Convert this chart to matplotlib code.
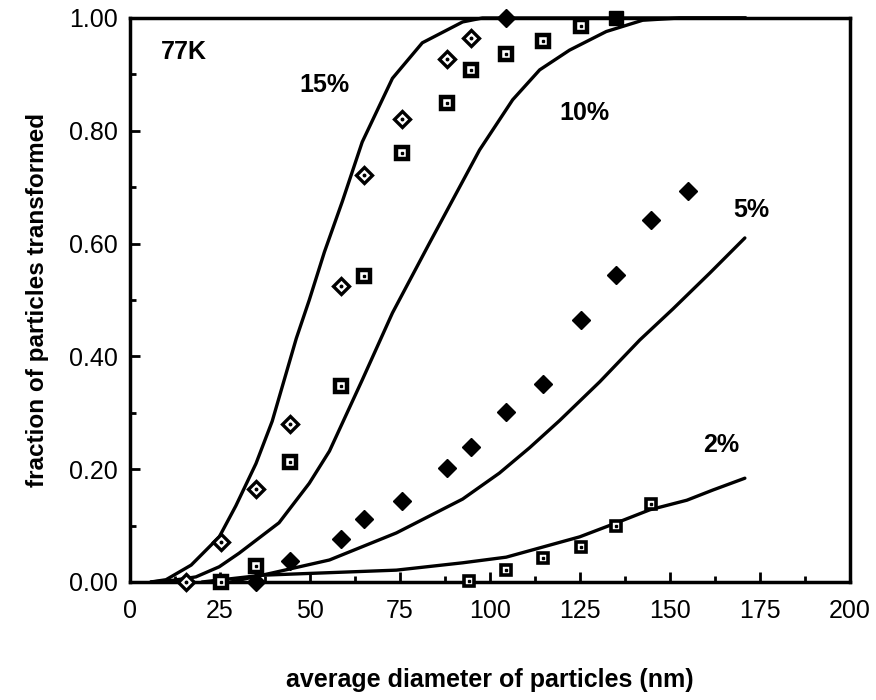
import numpy as np
import matplotlib.pyplot as plt
from matplotlib.ticker import MultipleLocator

plt.rcParams['font.family'] = ['Liberation Sans', 'DejaVu Sans']

# model curves
c15_x = [5.8, 10, 17, 24.8, 29.4, 35, 39.5, 46.2, 49.8, 54, 59, 64.5, 72.9, 81.2, 92.4, 97.9, 110, 140, 171]
c15_y = [0.0, 0.004, 0.03, 0.08, 0.135, 0.21, 0.285, 0.432, 0.5, 0.585, 0.675, 0.78, 0.893, 0.956, 0.993, 1.0, 1.0, 1.0, 1.0]

c10_x = [5.8, 12, 18.3, 24.8, 30.3, 41.4, 49.8, 55.4, 64.5, 72.9, 83.2, 89.6, 97.1, 106.3, 113.8, 122.1, 132.3, 142.4, 152.7, 171]
c10_y = [0.0, 0.003, 0.009, 0.027, 0.051, 0.105, 0.175, 0.232, 0.358, 0.477, 0.601, 0.677, 0.766, 0.855, 0.908, 0.943, 0.976, 0.996, 1.0, 1.0]

c5_x = [28, 39.5, 55.4, 74, 92.4, 102.6, 111, 119.3, 130.5, 141.6, 150.8, 161.1, 170.8]
c5_y = [0.0, 0.016, 0.039, 0.087, 0.147, 0.193, 0.238, 0.286, 0.355, 0.429, 0.484, 0.548, 0.61]

c2_x = [20, 36.7, 74, 92.4, 104.5, 114.7, 124.9, 135.2, 144.4, 154.7, 161.9, 170.8]
c2_y = [0.0, 0.012, 0.021, 0.034, 0.044, 0.062, 0.080, 0.105, 0.128, 0.145, 0.163, 0.184]

# measured points
d15_x = [15.5, 25.2, 35.0, 44.5, 58.6, 65.1, 75.6, 88.1, 94.8]
d15_y = [0.0, 0.071, 0.165, 0.280, 0.524, 0.722, 0.821, 0.927, 0.965]
d15_full_x = [104.5]
d15_full_y = [1.0]

s10_x = [25.2, 35.0, 44.5, 58.6, 65.1, 75.6, 88.1, 94.8, 104.5, 114.7, 125.2]
s10_y = [0.0, 0.028, 0.212, 0.348, 0.543, 0.760, 0.849, 0.907, 0.937, 0.960, 0.985]
s10_full_x = [134.9]
s10_full_y = [1.0]

d5_x = [35.0, 44.5, 58.6, 65.1, 75.6, 88.1, 94.8, 104.5, 114.7, 125.2, 134.9, 144.6, 155.0]
d5_y = [0.0, 0.038, 0.077, 0.111, 0.144, 0.202, 0.240, 0.302, 0.351, 0.465, 0.544, 0.641, 0.693]

s2_x = [94.3, 104.5, 114.7, 125.2, 134.9, 144.6]
s2_y = [0.002, 0.021, 0.042, 0.062, 0.100, 0.138]

fig = plt.figure(figsize=(8.76, 7.0), dpi=100)
ax = fig.add_axes([0.1484, 0.1686, 0.8219, 0.8057])

lw = 2.4
for cx, cy in [(c15_x, c15_y), (c10_x, c10_y), (c5_x, c5_y), (c2_x, c2_y)]:
    ax.plot(cx, cy, color='black', lw=lw, solid_capstyle='round', solid_joinstyle='round',
            clip_on=False, zorder=2)

# open diamonds with centre dot
ax.plot(d15_x, d15_y, 'D', ms=8, mfc='white', mec='black', mew=2.4, clip_on=False, zorder=3)
ax.plot(d15_x, d15_y, 'o', ms=1.8, color='black', clip_on=False, zorder=4)
ax.plot(d15_full_x, d15_full_y, 'D', ms=9, color='black', clip_on=False, zorder=3)

# open squares with centre dot
ax.plot(s10_x, s10_y, 's', ms=9, mfc='white', mec='black', mew=3.2, clip_on=False, zorder=3)
ax.plot(s10_x, s10_y, 's', ms=1.6, color='black', clip_on=False, zorder=4)
ax.plot(s10_full_x, s10_full_y, 's', ms=10, color='black', clip_on=False, zorder=3)

# filled diamonds
ax.plot(d5_x, d5_y, 'D', ms=9, color='black', clip_on=False, zorder=3)

# small squares
ax.plot(s2_x, s2_y, 's', ms=7.5, mfc='white', mec='black', mew=2.6, clip_on=False, zorder=3)
ax.plot(s2_x, s2_y, 's', ms=1.5, color='black', clip_on=False, zorder=4)

tfs = 18
ax.text(15.0, 0.94, '77K', fontsize=tfs, fontweight='bold', ha='center', va='center')
ax.text(54, 0.881, '15%', fontsize=tfs, fontweight='bold', ha='center', va='center')
ax.text(126.3, 0.832, '10%', fontsize=tfs, fontweight='bold', ha='center', va='center')
ax.text(172.7, 0.660, '5%', fontsize=tfs, fontweight='bold', ha='center', va='center')
ax.text(164.3, 0.243, '2%', fontsize=tfs, fontweight='bold', ha='center', va='center')

ax.set_xlim(0, 200)
ax.set_ylim(0, 1)
ax.xaxis.set_major_locator(MultipleLocator(25))
ax.xaxis.set_minor_locator(MultipleLocator(12.5))
ax.yaxis.set_major_locator(MultipleLocator(0.2))
ax.yaxis.set_minor_locator(MultipleLocator(0.1))
ax.yaxis.set_major_formatter(plt.FormatStrFormatter('%.2f'))

ax.tick_params(which='major', direction='in', length=7, width=2, labelsize=18)
ax.tick_params(which='minor', direction='in', length=4, width=2)
ax.tick_params(axis='x', which='major', pad=12)
ax.tick_params(axis='y', which='major', pad=9)
for sp in ax.spines.values():
    sp.set_linewidth(2.5)

ax.set_xlabel('average diameter of particles (nm)', fontsize=18, fontweight='bold', labelpad=33)
ax.set_ylabel('fraction of particles transformed', fontsize=17.5, fontweight='bold', labelpad=14)

fig.savefig('out.png', dpi=100)
